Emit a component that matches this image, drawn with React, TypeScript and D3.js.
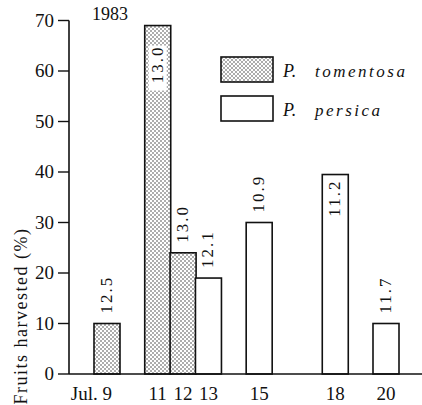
import * as d3 from "d3"
import { useEffect, useRef } from "react"

// harvest days (July) and share of fruits harvested (%)
const days = [9, 11, 12, 13, 15, 18, 20]
const species = ["tomentosa", "tomentosa", "tomentosa", "persica", "persica", "persica", "persica"]
const harvested = [10, 69, 24, 19, 30, 39.5, 10]
const sugar = ["12.5", "13.0", "13.0", "12.1", "10.9", "11.2", "11.7"]
const labelInside = [false, true, false, false, false, true, false]
const tickLabels = ["Jul. 9", "11", "12", "13", "15", "18", "20"]
const yTicks = [0, 10, 20, 30, 40, 50, 60, 70]

const W = 422
const H = 405
const FONT = "'Liberation Serif', 'DejaVu Serif', serif"

const App = () => {
  const svgRef = useRef<SVGSVGElement | null>(null)

  useEffect(() => {
    if (!svgRef.current) return
    const root = d3.select(svgRef.current)
    root.selectAll("*").remove()

    const x = d3.scaleLinear().domain([9, 20]).range([107, 386])
    const y = d3.scaleLinear().domain([0, 70]).range([374, 20.5])
    const barW = 26

    // stipple pattern
    const pat = root
      .append("defs")
      .append("pattern")
      .attr("id", "dots")
      .attr("patternUnits", "userSpaceOnUse")
      .attr("width", 4)
      .attr("height", 4)
    pat.append("rect").attr("width", 4).attr("height", 4).attr("fill", "#fff")
    pat.append("circle").attr("cx", 1).attr("cy", 1).attr("r", 0.75).attr("fill", "#333")
    pat.append("circle").attr("cx", 3).attr("cy", 3).attr("r", 0.75).attr("fill", "#333")

    const data = days.map((d, i) => ({
      day: d,
      sp: species[i],
      v: harvested[i],
      label: sugar[i],
      inside: labelInside[i],
    }))

    // bars
    root
      .selectAll(".bar")
      .data(data)
      .enter()
      .append("rect")
      .attr("class", "bar")
      .attr("x", d => x(d.day) - barW / 2)
      .attr("y", d => y(d.v))
      .attr("width", barW)
      .attr("height", d => y(0) - y(d.v))
      .attr("fill", d => (d.sp === "tomentosa" ? "url(#dots)" : "#fff"))
      .attr("stroke", "#111")
      .attr("stroke-width", 1.6)

    // sugar labels, rotated
    const lab = root
      .selectAll(".lab")
      .data(data)
      .enter()
      .append("g")
      .attr("class", "lab")
      .attr("transform", d => {
        const ty = d.inside ? y(d.v) + (d.v > 60 ? 20 : 5) : y(d.v) - 10
        return `translate(${x(d.day) + 5},${ty}) rotate(-90)`
      })
    lab
      .filter(d => d.inside)
      .append("rect")
      .attr("x", -45)
      .attr("y", -14)
      .attr("width", 45)
      .attr("height", 18)
      .attr("fill", "#fff")
    lab
      .append("text")
      .attr("text-anchor", d => (d.inside ? "end" : "start"))
      .attr("font-family", FONT)
      .attr("font-size", 17)
      .attr("letter-spacing", 2)
      .attr("fill", "#111")
      .text(d => d.label)

    // y axis
    root
      .append("line")
      .attr("x1", 69)
      .attr("x2", 69)
      .attr("y1", y(70))
      .attr("y2", y(0))
      .attr("stroke", "#111")
      .attr("stroke-width", 1.6)
    const yt = root.selectAll(".yt").data(yTicks).enter().append("g").attr("class", "yt")
    yt.append("line")
      .attr("x1", 58)
      .attr("x2", 69)
      .attr("y1", d => y(d))
      .attr("y2", d => y(d))
      .attr("stroke", "#111")
      .attr("stroke-width", 1.4)
    yt.append("text")
      .attr("x", 54)
      .attr("y", d => y(d) + 6)
      .attr("text-anchor", "end")
      .attr("font-family", FONT)
      .attr("font-size", 19)
      .attr("fill", "#111")
      .text(d => d)

    // baseline
    root
      .append("line")
      .attr("x1", 69)
      .attr("x2", W)
      .attr("y1", y(0))
      .attr("y2", y(0))
      .attr("stroke", "#111")
      .attr("stroke-width", 1.6)

    // x tick labels
    root
      .selectAll(".xt")
      .data(days)
      .enter()
      .append("text")
      .attr("x", (d, i) => (i === 0 ? x(d) + 5 : x(d)))
      .attr("y", 400)
      .attr("text-anchor", (d, i) => (i === 0 ? "end" : "middle"))
      .attr("font-family", FONT)
      .attr("font-size", 19)
      .attr("fill", "#111")
      .text((d, i) => tickLabels[i])

    // y label
    root
      .append("text")
      .attr("transform", `translate(27,316) rotate(-90)`)
      .attr("text-anchor", "middle")
      .attr("font-family", FONT)
      .attr("font-size", 18)
      .attr("letter-spacing", 1.5)
      .attr("fill", "#111")
      .text("Fruits harvested (%)")

    // year
    root
      .append("text")
      .attr("x", 92)
      .attr("y", 20)
      .attr("font-family", FONT)
      .attr("font-size", 18)
      .attr("fill", "#111")
      .text("1983")

    // legend
    const legend = [
      { name: "tomentosa", fill: "url(#dots)" },
      { name: "persica", fill: "#fff" },
    ]
    const lg = root
      .selectAll(".lg")
      .data(legend)
      .enter()
      .append("g")
      .attr("class", "lg")
      .attr("transform", (d, i) => `translate(221,${57 + i * 39})`)
    lg.append("rect")
      .attr("width", 52)
      .attr("height", 25)
      .attr("fill", d => d.fill)
      .attr("stroke", "#111")
      .attr("stroke-width", 1.6)
    lg.append("text")
      .attr("x", 62)
      .attr("y", 20)
      .attr("font-family", FONT)
      .attr("font-style", "italic")
      .attr("font-size", 18)
      .attr("fill", "#111")
      .text("P.")
    lg.append("text")
      .attr("x", 94)
      .attr("y", 20)
      .attr("font-family", FONT)
      .attr("font-style", "italic")
      .attr("font-size", 17)
      .attr("letter-spacing", 2.5)
      .attr("fill", "#111")
      .text(d => d.name)
  }, [])

  return (
    <svg
      ref={svgRef}
      width={W}
      height={H}
      style={{ position: "absolute", left: 0, top: 0, background: "#fff" }}
    />
  )
}

export default App
